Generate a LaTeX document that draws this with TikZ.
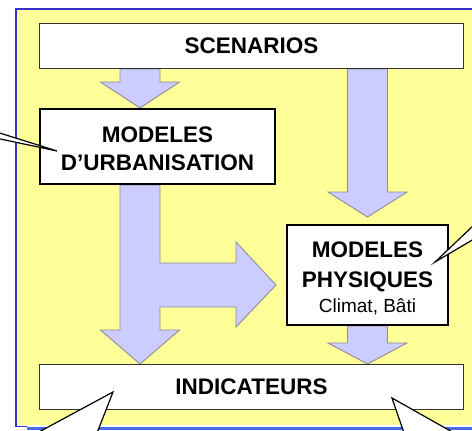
\documentclass[tikz,border=0pt]{standalone}
\usepackage{fontspec}
\setmainfont{Liberation Sans}
\usetikzlibrary{calc}
\definecolor{bgyellow}{HTML}{FFFF99}
\definecolor{framblue}{HTML}{3434C8}
\definecolor{shadblue}{HTML}{4A6CE6}
\definecolor{arrfill}{HTML}{CCCCFF}
\definecolor{arrline}{HTML}{8C8C9C}
\pgfdeclarelayer{bg}
\pgfsetlayers{bg,main}
\newcommand\downblock[4]{% column, from, to, head length
  \draw[blockarrow] ($(#1 |- #2)+(-20,0)$) -- ($(#1 |- #2)+(20,0)$) -- ($(#1 |- #3)+(20,-#4)$) -- ($(#1 |- #3)+(39.5,-#4)$) -- (#1 |- #3) -- ($(#1 |- #3)+(-39.5,-#4)$) -- ($(#1 |- #3)+(-20,-#4)$) -- cycle;}
\begin{document}
\begin{tikzpicture}[x=1pt,y=-1pt,
  thinbox/.style={draw=black!80, line width=1.2pt, fill=white, inner sep=0pt},
  thickbox/.style={draw=black, line width=2.4pt, fill=white, inner sep=0pt, align=center, text depth=0pt},
  blockarrow/.style={fill=arrfill, draw=arrline, line width=0.9pt, line join=miter},
  callout/.style={fill=white, draw=black, line width=1.2pt, line join=miter},
  bigtext/.style={font=\bfseries\fontsize{22.5}{28}\selectfont}]
\useasboundingbox (0,0) rectangle (472,431);
\clip (0,0) rectangle (472,431);

% nodes
\node[thinbox, minimum width=423.8pt, minimum height=44.8pt, bigtext] (scen) at (251.5,46) {SCENARIOS};
\node[thickbox, minimum width=234.6pt, minimum height=74.6pt, bigtext, text height=47.5pt] (urb) at (157.5,146.5) {MODELES\\D’URBANISATION};
\node[thickbox, minimum width=160.6pt, minimum height=99.6pt, bigtext, text height=74.5pt] (phys) at (367.5,275) {MODELES\\[2pt]PHYSIQUES\\[-3pt]{\mdseries\fontsize{19}{22}\selectfont Climat, Bâti}};
\node[thinbox, minimum width=423.8pt, minimum height=44.8pt, bigtext] (ind) at (251.5,387) {INDICATEURS};

% columns and tips
\coordinate (L) at (140,0);
\coordinate (R) at (367.5,0);
\coordinate (t2) at ($(R |- phys.north)+(0,-7)$);
\coordinate (t4) at ($(phys.west)+(-10,10)$);

\begin{pgfonlayer}{bg}
  \fill[bgyellow] (16,9) rectangle (472,425);
  \draw[shadblue, line width=3pt] (27,428.5) -- (472,428.5);
  \draw[framblue, line width=1.6pt] (472,9) -- (15.8,9) -- (15.8,426.5) -- (27,426.5);
  % block arrows
  \downblock{L}{scen.south}{urb.north}{26}
  \downblock{R}{scen.south}{t2}{25}
  \downblock{R}{phys.south}{ind.north}{21}
  \draw[blockarrow] ($(L |- urb.south)+(-20,0)$) -- ($(L |- urb.south)+(20,0)$)
    -- ($(L |- t4)+(20,-22)$) -- ($(t4)+(-40,-22)$) -- ($(t4)+(-40,-43)$) -- (t4)
    -- ($(t4)+(-40,42)$) -- ($(t4)+(-40,22)$) -- ($(L |- t4)+(20,22)$)
    -- ($(L |- ind.north)+(20,-34)$) -- ($(L |- ind.north)+(39.5,-34)$) -- (L |- ind.north)
    -- ($(L |- ind.north)+(-39.5,-34)$) -- ($(L |- ind.north)+(-20,-34)$) -- cycle;
\end{pgfonlayer}

% callouts
\coordinate (cl) at ($(urb.west)+(18,4.5)$);
\coordinate (cr) at ($(phys.east)+(-14,-13)$);
\coordinate (cbl) at ($(ind.south west)+(74,-18)$);
\coordinate (cbr) at ($(ind.south east)+(-72,-12)$);
\draw[callout] (cl) -- (-2,132.5) -- (-2,138.5) -- cycle;
\draw[callout] (cr) -- (474,225) -- (474,239) -- cycle;
\draw[callout] (cbl) -- (37,433) -- (97,433) -- cycle;
\draw[callout] (cbr) -- (404,433) -- (454,433) -- cycle;
\end{tikzpicture}
\end{document}
